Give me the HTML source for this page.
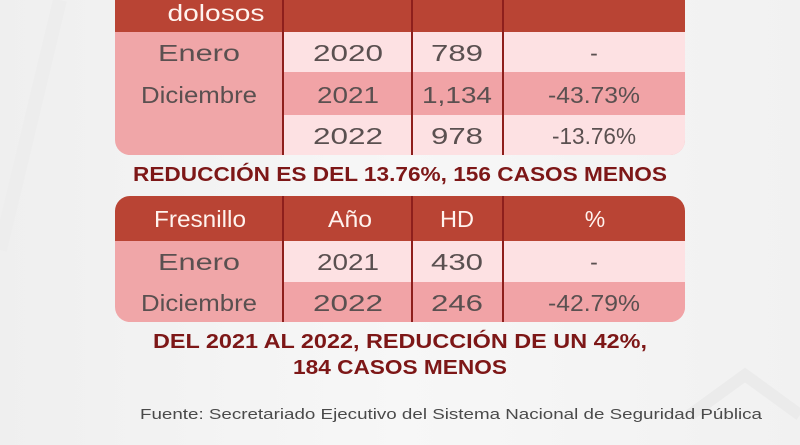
<!DOCTYPE html>
<html><head><meta charset="utf-8"><style>
html,body{margin:0;padding:0;width:800px;height:445px;overflow:hidden;background:#f3f3f3}
text{font-family:"Liberation Sans",sans-serif}
</style></head><body>
<svg width="800" height="445" viewBox="0 0 800 445" xmlns="http://www.w3.org/2000/svg">
<defs>
<linearGradient id="bg" x1="0" y1="0" x2="1" y2="0">
<stop offset="0" stop-color="#efefef"/><stop offset="0.5" stop-color="#f7f7f7"/><stop offset="1" stop-color="#f1f1f1"/>
</linearGradient>
<clipPath id="c1"><path d="M115 0 H685 V140 a15 15 0 0 1 -15 15 H130 a15 15 0 0 1 -15 -15 Z"/></clipPath>
<clipPath id="c2"><rect x="115" y="196" width="570" height="126" rx="15"/></clipPath>
</defs>
<rect width="800" height="445" fill="url(#bg)"/>
<path d="M0 250 L60 0" stroke="#ededed" stroke-width="14" fill="none"/>
<path d="M690 415 L745 375 L800 415" stroke="#ebebeb" stroke-width="12" fill="none"/>
<g clip-path="url(#c1)">
<rect x="115" y="0" width="570" height="32" fill="#b94434"/>
<rect x="115" y="32" width="570" height="123" fill="#f0a6a8"/>
<rect x="284" y="32" width="401" height="40" fill="#fde1e3"/>
<rect x="284" y="72" width="401" height="43" fill="#f1a3a6"/>
<rect x="284" y="115" width="401" height="40" fill="#fde1e3"/>
</g>
<g stroke="#8e1f1c" stroke-width="2">
<line x1="283" y1="0" x2="283" y2="155"/><line x1="412" y1="0" x2="412" y2="155"/><line x1="503" y1="0" x2="503" y2="155"/>
</g>
<g lengthAdjust="spacingAndGlyphs">
<text x="216" y="21" font-size="23" fill="#fff3ee" text-anchor="middle" textLength="97" lengthAdjust="spacingAndGlyphs">dolosos</text>
<g font-size="23" fill="#5a5050" text-anchor="middle">
<text x="199" y="61" textLength="82" lengthAdjust="spacingAndGlyphs">Enero</text>
<text x="199" y="103" textLength="116" lengthAdjust="spacingAndGlyphs">Diciembre</text>
<text x="348" y="61" textLength="70" lengthAdjust="spacingAndGlyphs">2020</text>
<text x="348" y="103" textLength="62" lengthAdjust="spacingAndGlyphs">2021</text>
<text x="348" y="144" textLength="70" lengthAdjust="spacingAndGlyphs">2022</text>
<text x="457" y="61" textLength="52" lengthAdjust="spacingAndGlyphs">789</text>
<text x="457" y="103" textLength="70" lengthAdjust="spacingAndGlyphs">1,134</text>
<text x="457" y="144" textLength="52" lengthAdjust="spacingAndGlyphs">978</text>
<text x="594" y="61">-</text>
<text x="594" y="103" textLength="92" lengthAdjust="spacingAndGlyphs">-43.73%</text>
<text x="594" y="144" textLength="84" lengthAdjust="spacingAndGlyphs">-13.76%</text>
</g>
</g>
<text x="400" y="181" font-size="20" font-weight="bold" fill="#7d1717" text-anchor="middle" textLength="534" lengthAdjust="spacingAndGlyphs">REDUCCIÓN ES DEL 13.76%, 156 CASOS MENOS</text>
<g clip-path="url(#c2)">
<rect x="115" y="196" width="570" height="45" fill="#b94434"/>
<rect x="115" y="241" width="570" height="81" fill="#f0a6a8"/>
<rect x="284" y="241" width="401" height="41" fill="#fde1e3"/>
<rect x="284" y="282" width="401" height="40" fill="#f1a3a6"/>
</g>
<g stroke="#8e1f1c" stroke-width="2">
<line x1="283" y1="196" x2="283" y2="322"/><line x1="412" y1="196" x2="412" y2="322"/><line x1="503" y1="196" x2="503" y2="322"/>
</g>
<g font-size="23" fill="#fff3ee" text-anchor="middle">
<text x="200" y="227" textLength="92" lengthAdjust="spacingAndGlyphs">Fresnillo</text>
<text x="350" y="227" textLength="44" lengthAdjust="spacingAndGlyphs">Año</text>
<text x="457" y="227" textLength="34" lengthAdjust="spacingAndGlyphs">HD</text>
<text x="595" y="227">%</text>
</g>
<g font-size="23" fill="#5a5050" text-anchor="middle">
<text x="199" y="270" textLength="82" lengthAdjust="spacingAndGlyphs">Enero</text>
<text x="199" y="311" textLength="116" lengthAdjust="spacingAndGlyphs">Diciembre</text>
<text x="348" y="270" textLength="62" lengthAdjust="spacingAndGlyphs">2021</text>
<text x="348" y="311" textLength="70" lengthAdjust="spacingAndGlyphs">2022</text>
<text x="457" y="270" textLength="52" lengthAdjust="spacingAndGlyphs">430</text>
<text x="457" y="311" textLength="52" lengthAdjust="spacingAndGlyphs">246</text>
<text x="594" y="270">-</text>
<text x="594" y="311" textLength="92" lengthAdjust="spacingAndGlyphs">-42.79%</text>
</g>
<g font-size="20" font-weight="bold" fill="#7d1717" text-anchor="middle">
<text x="400" y="348" textLength="494" lengthAdjust="spacingAndGlyphs">DEL 2021 AL 2022, REDUCCIÓN DE UN 42%,</text>
<text x="400" y="374" textLength="214" lengthAdjust="spacingAndGlyphs">184 CASOS MENOS</text>
</g>
<text x="451" y="419" font-size="15" fill="#4a4a4a" text-anchor="middle" textLength="622" lengthAdjust="spacingAndGlyphs">Fuente: Secretariado Ejecutivo del Sistema Nacional de Seguridad Pública</text>
</svg>
</body></html>
